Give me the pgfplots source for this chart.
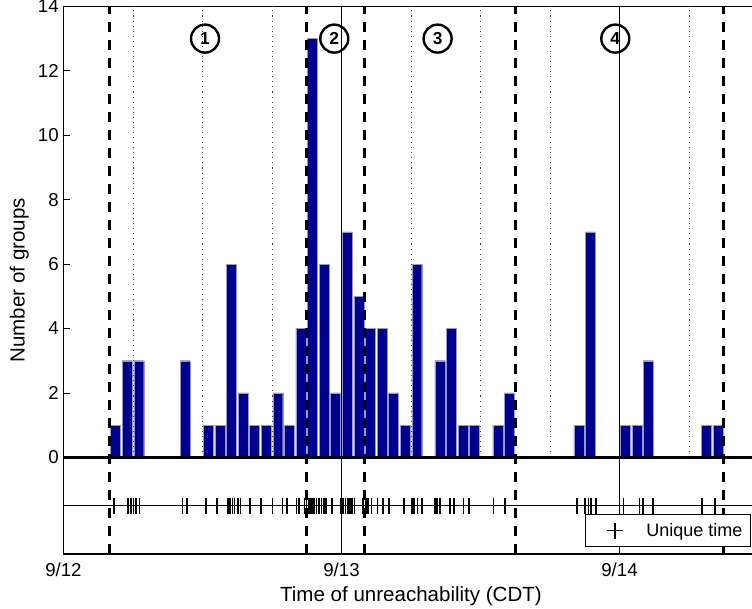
\documentclass[border=0pt]{standalone}
\usepackage{pgfplots}
\pgfplotsset{compat=1.18}
\usepackage{fontspec}
\setmainfont{Liberation Sans}
\definecolor{barblue}{RGB}{0,0,143}
\definecolor{baredge}{RGB}{150,150,215}
\begin{document}
\begin{tikzpicture}
\begin{axis}[
  scale only axis, width=521.25pt, height=410.7pt,
  xmin=0, xmax=60, ymin=-3, ymax=14,
  xtick={0,24,48}, xticklabels={9/12,9/13,9/14},
  ytick={0,2,...,14},
  tick align=inside, major tick length=5pt,
  tick style={line width=0.6pt, black},
  axis line style={line width=0.8pt},
  ticklabel style={font=\fontsize{14}{16}\selectfont},
  xticklabel style={yshift=-3.5pt},
  /pgf/number format/assume math mode=true,
  xlabel={Time of unreachability (CDT)},
  ylabel={Number of groups},
  label style={font=\fontsize{15.4}{18}\selectfont},
  legend style={at={(0.989,0.0126)}, anchor=south east, draw=black, line width=0.6pt,
    font=\fontsize{13.5}{15}\selectfont, inner xsep=4pt, inner ysep=4.5pt},
  legend image code/.code={\path[draw=none] (0pt,-5pt) rectangle (40pt,5pt); \draw[#1] plot coordinates {(18.25pt,0pt)};},
]
\addplot[ybar, bar width=0.86, fill=barblue, draw=baredge, line width=0.3pt, forget plot] coordinates {
(4.5,1)(5.5,3)(6.5,3)(10.5,3)(12.5,1)(13.5,1)(14.5,6)(15.5,2)(16.5,1)(17.5,1)(18.5,2)(19.5,1)
(20.5,4)(21.5,13)(22.5,6)(23.5,2)(24.5,7)(25.5,5)(26.5,4)(27.5,4)(28.5,2)(29.5,1)(30.5,6)
(32.5,3)(33.5,4)(34.5,1)(35.5,1)(37.5,1)(38.5,2)(44.5,1)(45.5,7)(48.5,1)(49.5,1)(50.5,3)
(55.5,1)(56.5,1)};
% dotted six-hour lines
\addplot[black!75, line width=0.6pt, dash pattern=on 0.8pt off 3pt, forget plot] coordinates {(6,0)(6,14)};
\addplot[black!75, line width=0.6pt, dash pattern=on 0.8pt off 3pt, forget plot] coordinates {(12,0)(12,14)};
\addplot[black!75, line width=0.6pt, dash pattern=on 0.8pt off 3pt, forget plot] coordinates {(18,0)(18,14)};
\addplot[black!75, line width=0.6pt, dash pattern=on 0.8pt off 3pt, forget plot] coordinates {(30,0)(30,14)};
\addplot[black!75, line width=0.6pt, dash pattern=on 0.8pt off 3pt, forget plot] coordinates {(36,0)(36,14)};
\addplot[black!75, line width=0.6pt, dash pattern=on 0.8pt off 3pt, forget plot] coordinates {(42,0)(42,14)};
\addplot[black!75, line width=0.6pt, dash pattern=on 0.8pt off 3pt, forget plot] coordinates {(54,0)(54,14)};
% day lines
\addplot[black, line width=0.75pt, forget plot] coordinates {(24,-3)(24,14)};
\addplot[black, line width=0.75pt, forget plot] coordinates {(48,-3)(48,14)};
% zero line and unique-time line
\addplot[black, line width=2pt, forget plot] coordinates {(0,0)(60,0)};
\addplot[black, line width=0.9pt, forget plot] coordinates {(0,-1.5)(60,-1.5)};
% phase boundaries
\addplot[black, line width=2pt, dash pattern=on 7.5pt off 6pt, forget plot] coordinates {(4,-3)(4,14)};
\addplot[black, line width=2pt, dash pattern=on 7.5pt off 6pt, forget plot] coordinates {(21,-3)(21,14)};
\addplot[black, line width=2pt, dash pattern=on 7.5pt off 6pt, forget plot] coordinates {(26,-3)(26,14)};
\addplot[black, line width=2pt, dash pattern=on 7.5pt off 6pt, forget plot] coordinates {(39,-3)(39,14)};
\addplot[black, line width=2pt, dash pattern=on 7.5pt off 6pt, forget plot] coordinates {(57,-3)(57,14)};
% unique times
\addplot[only marks, mark=+, mark size=6pt, black, mark options={line width=1.2pt}] coordinates {
(4.386,-1.5)(5.594,-1.5)(5.810,-1.5)(6.052,-1.5)(6.276,-1.5)(6.570,-1.5)(10.291,-1.5)(10.662,-1.5)
(12.328,-1.5)(13.278,-1.5)(14.228,-1.5)(14.401,-1.5)(14.590,-1.5)(14.763,-1.5)(15.048,-1.5)(15.281,-1.5)
(16.101,-1.5)(17.034,-1.5)(18.052,-1.5)(18.924,-1.5)(19.321,-1.5)(20.133,-1.5)(20.349,-1.5)(20.806,-1.5)
(20.979,-1.5)(21.152,-1.5)(21.307,-1.5)(21.480,-1.5)(21.644,-1.5)(21.860,-1.5)(22.084,-1.5)(22.291,-1.5)
(22.490,-1.5)(22.689,-1.5)(23.207,-1.5)(23.932,-1.5)(24.156,-1.5)(24.363,-1.5)(24.545,-1.5)(24.735,-1.5)
(24.933,-1.5)(25.123,-1.5)(25.883,-1.5)(26.099,-1.5)(26.271,-1.5)(26.608,-1.5)(27.109,-1.5)(27.566,-1.5)
(28.127,-1.5)(29.397,-1.5)(30.070,-1.5)(30.286,-1.5)(30.571,-1.5)(30.933,-1.5)(32.090,-1.5)(32.263,-1.5)
(32.487,-1.5)(33.385,-1.5)(33.739,-1.5)(34.533,-1.5)(35.034,-1.5)(37.123,-1.5)(38.116,-1.5)(44.349,-1.5)
(45.023,-1.5)(45.325,-1.5)(45.558,-1.5)(45.955,-1.5)(48.347,-1.5)(49.728,-1.5)(50.030,-1.5)(50.894,-1.5)
(55.106,-1.5)(56.246,-1.5)};
\addlegendentry{Unique time}
\node[circle, draw, line width=1.8pt, minimum size=21pt, inner sep=0pt, font=\bfseries\fontsize{13}{13}\selectfont] at (axis cs:12.22,13) {1};
\node[circle, draw, line width=1.8pt, minimum size=21pt, inner sep=0pt, font=\bfseries\fontsize{13}{13}\selectfont] at (axis cs:23.38,13) {2};
\node[circle, draw, line width=1.8pt, minimum size=21pt, inner sep=0pt, font=\bfseries\fontsize{13}{13}\selectfont] at (axis cs:32.30,13) {3};
\node[circle, draw, line width=1.8pt, minimum size=21pt, inner sep=0pt, font=\bfseries\fontsize{13}{13}\selectfont] at (axis cs:47.64,13) {4};
\coordinate (bl) at (rel axis cs:0,0);
\end{axis}
\pgfresetboundingbox
\path[use as bounding box] ([xshift=-47.6pt,yshift=-41.25pt]bl) rectangle ([xshift=516.4pt,yshift=415.5pt]bl);
\end{tikzpicture}
\end{document}
